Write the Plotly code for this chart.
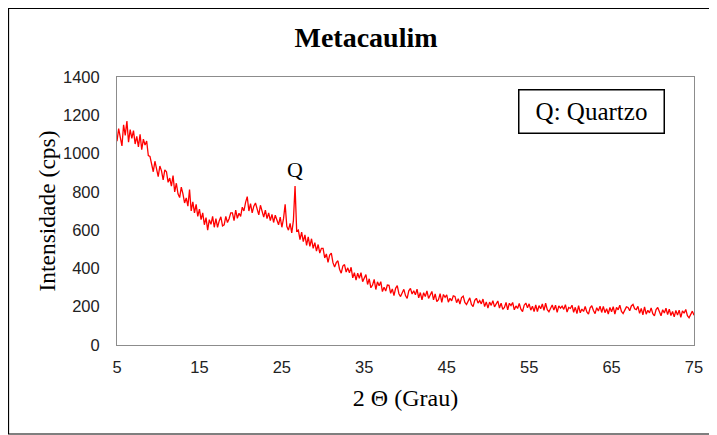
import numpy as np
import plotly.graph_objects as go

# 2-theta grid (0.2 degree steps from 5 to 75)
two_theta = np.round(np.arange(5.0, 75.0001, 0.2), 1)

# Intensity (cps), 5 values per degree
intensity = [
    1065, 1130, 1085, 1040, 1150,
    1095, 1170, 1060, 1125, 1080,
    1120, 1050, 1090, 1035, 1100,
    1020, 1075, 1045, 1065, 990,
    985, 940, 905, 960, 915,
    880, 935, 910, 862, 915,
    905, 850, 872, 830, 885,
    800, 845, 790, 770, 825,
    790, 742, 768, 725, 812,
    700, 748, 690, 735, 672,
    710, 655, 690, 628, 665,
    600, 655, 630, 672, 615,
    660, 615, 648, 670, 622,
    628, 672, 640, 660, 690,
    690, 650, 705, 662, 688,
    672, 720, 700, 745, 775,
    700, 738, 690, 725, 742,
    712, 680, 730, 695, 668,
    705, 660, 690, 650, 682,
    640, 678, 655, 628, 668,
    615, 660, 735, 620, 600,
    635, 585, 650, 830, 595,
    600, 550, 590, 540, 575,
    520, 565, 515, 555, 505,
    535, 490, 525, 480, 505,
    505, 455, 476, 432, 470,
    480, 430, 408, 430, 440,
    396, 375, 412, 420, 381,
    403, 377, 406, 351, 378,
    339, 375, 349, 378, 331,
    350, 368, 316, 346, 299,
    313, 343, 290, 330, 310,
    331, 279, 302, 282, 313,
    312, 270, 293, 258, 296,
    310, 268, 253, 278, 291,
    258, 243, 283, 296, 266,
    283, 262, 292, 246, 274,
    236, 273, 253, 283, 243,
    260, 280, 236, 267, 227,
    237, 268, 223, 264, 249,
    262, 224, 244, 231, 257,
    254, 221, 242, 214, 248,
    255, 222, 211, 233, 246,
    212, 200, 233, 244, 219,
    232, 215, 240, 201, 225,
    193, 224, 207, 232, 199,
    213, 230, 193, 219, 186,
    196, 222, 184, 218, 206,
    222, 184, 204, 191, 217,
    187, 175, 208, 219, 194,
    215, 182, 203, 175, 209,
    175, 206, 189, 214, 181,
    218, 185, 174, 196, 209,
    182, 208, 170, 204, 192,
    203, 186, 211, 172, 196,
    191, 208, 171, 197, 164,
    206, 168, 188, 175, 201,
    173, 161, 194, 205, 180,
    164, 195, 178, 203, 170,
    202, 169, 190, 162, 196,
    174, 200, 162, 196, 184,
    208, 175, 164, 186, 199,
    196, 179, 204, 212, 189,
    185, 202, 165, 191, 158,
    199, 161, 181, 168, 194,
    164, 152, 185, 196, 171,
    153, 184, 167, 192, 159,
    187, 154, 175, 147, 181,
    156, 182, 144, 178, 166,
    186, 153, 142, 164, 177,
    155,
]

x_ticks = [5, 15, 25, 35, 45, 55, 65, 75]
y_ticks = [0, 200, 400, 600, 800, 1000, 1200, 1400]

quartz_peak_x = 26.6
quartz_peak_y = 830

serif = "Liberation Serif"
sans = "Liberation Sans"

fig = go.Figure()
fig.add_trace(go.Scatter(
    x=two_theta, y=intensity, mode="lines",
    line=dict(color="#FF0000", width=1.3),
    showlegend=False, hoverinfo="skip",
))

fig.update_layout(
    width=709, height=427,
    margin=dict(l=109, r=23, t=69, b=90),
    paper_bgcolor="white", plot_bgcolor="white",
    title=dict(text="<b>Metacaulim</b>", x=0.505, xanchor="center",
               y=0.932, yanchor="middle",
               font=dict(family=serif, size=28, color="black")),
    xaxis=dict(range=[5, 75], tickvals=x_ticks, ticktext=[str(v) for v in x_ticks],
               showgrid=False, zeroline=False, showline=True, linecolor="#8c8c8c",
               linewidth=1, mirror=True, ticks="", ticklabelstandoff=7,
               tickfont=dict(family=sans, size=16.5, color="#222"),
               title=dict(text="2 Θ (Grau)", standoff=14,
                          font=dict(family=serif, size=24, color="black"))),
    yaxis=dict(range=[0, 1400], tickvals=y_ticks, ticktext=[str(v) for v in y_ticks],
               showgrid=False, zeroline=False, showline=True, linecolor="#8c8c8c",
               linewidth=1, mirror=True, ticks="", ticklabelstandoff=13,
               tickfont=dict(family=sans, size=16.5, color="#222"),
               title=dict(text="Intensidade (cps)", standoff=0,
                          font=dict(family=serif, size=23.5, color="black"))),
)

fig.add_annotation(
    xref="paper", yref="paper", x=0.8215, y=0.873,
    xanchor="center", yanchor="middle", showarrow=False,
    text="Q: Quartzo", font=dict(family=serif, size=25, color="black"),
    width=136, height=34,
    bordercolor="black", borderwidth=1.5, borderpad=4, bgcolor="white",
)

fig.add_annotation(
    x=quartz_peak_x, y=quartz_peak_y, xref="x", yref="y",
    text="Q", showarrow=False, yanchor="bottom", yshift=2,
    font=dict(family=serif, size=22, color="black"),
)

# outer chart border
fig.add_shape(type="rect", xref="paper", yref="paper",
              x0=-0.188, x1=1.031, y0=-0.332, y1=1.2556,
              line=dict(color="black", width=1.2), fillcolor="rgba(0,0,0,0)",
              layer="below")

fig.write_html("out.html")
